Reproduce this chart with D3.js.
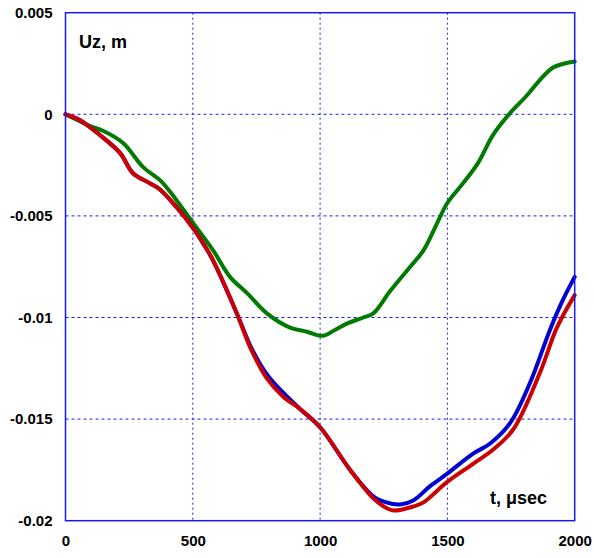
<!DOCTYPE html>
<html><head><meta charset="utf-8">
<script src="https://cdn.jsdelivr.net/npm/d3@7"></script>
<style>body{margin:0;background:#fff}svg{display:block}</style>
</head><body>
<script>
const xTicks = [0, 500, 1000, 1500, 2000];
const yTicks = [0.005, 0, -0.005, -0.01, -0.015, -0.02];
const yTickLabels = ["0.005", "0", "-0.005", "-0.01", "-0.015", "-0.02"];

const greenT = [0, 50, 96, 147, 226, 305, 371, 410, 501, 580, 646, 713, 791, 882, 948, 1011, 1060, 1105, 1170, 1209, 1275, 1354, 1406, 1458, 1498, 1561, 1620, 1680, 1746, 1810, 1864, 1915, 1960, 2000];
const greenV = [0, -0.0003, -0.00058, -0.00081, -0.00141, -0.0026, -0.00324, -0.0038, -0.00535, -0.0067, -0.0080, -0.0088, -0.0098, -0.0105, -0.0107, -0.0109, -0.0106, -0.0103, -0.0100, -0.0098, -0.0087, -0.0075, -0.0067, -0.0054, -0.0044, -0.0034, -0.0024, -0.0010, 0.00006, 0.0009, 0.0017, 0.0023, 0.0025, 0.0026];

const blueT = [0, 57, 135, 214, 265, 332, 371, 438, 501, 548, 580, 673, 730, 791, 855, 921, 1000, 1118, 1209, 1260, 1314, 1366, 1432, 1498, 1601, 1668, 1746, 1825, 1903, 1955, 2000];
const blueV = [0, -0.00029, -0.00102, -0.0019, -0.0029, -0.0034, -0.0037, -0.0046, -0.0056, -0.0065, -0.0072, -0.0098, -0.0115, -0.0128, -0.0137, -0.0145, -0.0154, -0.0175, -0.0188, -0.0191, -0.0192, -0.0190, -0.0183, -0.0177, -0.0167, -0.0162, -0.0152, -0.0132, -0.0106, -0.0091, -0.0080];

const redT = [0, 57, 135, 214, 265, 332, 371, 438, 501, 548, 580, 673, 730, 791, 855, 921, 1000, 1118, 1209, 1250, 1288, 1366, 1406, 1498, 1601, 1680, 1759, 1864, 1930, 2000];
const redV = [0, -0.00029, -0.00102, -0.0019, -0.0029, -0.0034, -0.0037, -0.0046, -0.0056, -0.0065, -0.0072, -0.0098, -0.0116, -0.0130, -0.0139, -0.0145, -0.0154, -0.0175, -0.0189, -0.0193, -0.0195, -0.0193, -0.0191, -0.0181, -0.0172, -0.0165, -0.0155, -0.0127, -0.0105, -0.0089];

const W = 594, H = 558;
const L = 65.5, R = 574.7, T = 12.7, B = 520.7;
const svg = d3.select("body").append("svg").attr("width", W).attr("height", H);
const x = d3.scaleLinear().domain([0, 2000]).range([L, R]);
const y = d3.scaleLinear().domain([-0.02, 0.005]).range([B, T]);
const font = "Arial, 'Liberation Sans', sans-serif";
const gridColor = "#1a1ae6";

// grid
const g = svg.append("g");
g.selectAll("line.vx").data(xTicks.slice(1, -1)).join("line")
  .attr("x1", d => x(d)).attr("x2", d => x(d)).attr("y1", T).attr("y2", B)
  .attr("stroke", gridColor).attr("stroke-width", 1).attr("stroke-dasharray", "2,3");
g.selectAll("line.hy").data(yTicks.slice(1, -1)).join("line")
  .attr("y1", d => y(d)).attr("y2", d => y(d)).attr("x1", L).attr("x2", R)
  .attr("stroke", gridColor).attr("stroke-width", 1).attr("stroke-dasharray", "3,3");

// axes labels
const xAxis = d3.axisBottom(x).tickValues(xTicks).tickSize(0).tickPadding(15).tickFormat(d3.format("d"));
const xa = svg.append("g").attr("transform", `translate(0,${B})`).call(xAxis);
xa.select(".domain").remove();
xa.selectAll("text").attr("font-family", font).attr("font-size", 15).attr("font-weight", "bold").attr("fill", "#000");

const yAxis = d3.axisLeft(y).tickValues(yTicks).tickSize(0).tickPadding(13).tickFormat((d, i) => yTickLabels[i]);
const ya = svg.append("g").attr("transform", `translate(${L},0)`).call(yAxis);
ya.select(".domain").remove();
ya.selectAll("text").attr("font-family", font).attr("font-size", 15).attr("font-weight", "bold").attr("fill", "#000");

// series
const line = d3.line().x(d => x(d[0])).y(d => y(d[1])).curve(d3.curveCatmullRom.alpha(0.5));
const series = [
  {t: greenT, v: greenV, c: "#007a00"},
  {t: blueT, v: blueV, c: "#0000d0"},
  {t: redT, v: redV, c: "#cc0000"}
];
svg.append("g").selectAll("path").data(series).join("path")
  .attr("d", s => line(s.t.map((t, i) => [t, s.v[i]])))
  .attr("fill", "none").attr("stroke", s => s.c).attr("stroke-width", 4)
  .attr("stroke-linejoin", "round").attr("stroke-linecap", "round");

// frame
svg.append("rect").attr("x", L).attr("y", T).attr("width", R - L).attr("height", B - T)
  .attr("fill", "none").attr("stroke", gridColor).attr("stroke-width", 1.5);

// annotations
svg.append("text").attr("x", 79).attr("y", 48).attr("font-family", font).attr("font-weight", "bold")
  .attr("font-size", 18).attr("fill", "#000").text("Uz, m");
svg.append("text").attr("x", 490).attr("y", 504).attr("font-family", font).attr("font-weight", "bold")
  .attr("font-size", 18).attr("fill", "#000").text("t, μsec");
</script>
</body></html>
